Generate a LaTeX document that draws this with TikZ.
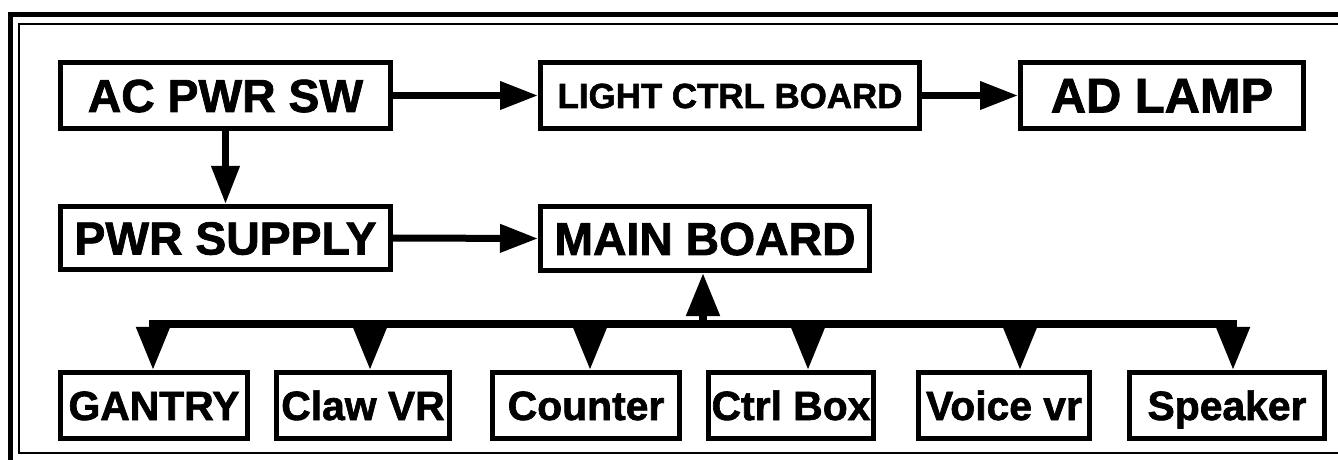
\documentclass[tikz,border=0pt]{standalone}
\usepackage{fontspec}
\setmainfont{Liberation Sans}[BoldFeatures={FakeBold=1.6}]
\usetikzlibrary{arrows.meta}
\tikzset{
  x=1bp, y=-1bp,
  box/.style={draw, line width=5bp, inner sep=0pt, minimum height=66bp, text height=33bp, text depth=0bp, font=\bfseries\fontsize{46.5}{46.5}\selectfont},
  small/.style={text height=25bp, font=\bfseries\fontsize{35}{35}\selectfont},
  wide/.style={text height=34bp, font=\bfseries\fontsize{49}{49}\selectfont},
  low/.style={text height=29bp, font=\bfseries\fontsize{41}{41}\selectfont},
  arr/.style={line width=7bp, -{Triangle[length=38bp, width=27bp]}},
  drop/.style={line width=8bp, -{Triangle[length=43bp, width=32bp]}},
  bus/.style={line width=8bp},
}
\begin{document}
\begin{tikzpicture}
\useasboundingbox (0,0) rectangle (1338,460);
\clip (0,0) rectangle (1338,460);
% frame
\draw[line width=5bp] (10.5,470) |- (1350,14.5);
\draw[line width=2bp] (1350,453) -| (19,24) -- (1350,24);
% top row
\node[box, minimum width=330bp] (ac) at (225.5,95.5) {AC PWR SW};
\node[box, small, minimum width=379bp] (light) at (730,95.5) {LIGHT CTRL BOARD};
\node[box, wide, minimum width=283bp] (lamp) at (1162,95.5) {AD LAMP};
% middle row
\node[box, minimum width=330bp, minimum height=63bp] (pwr) at (225.5,238) {PWR SUPPLY};
\node[box, minimum width=329bp, minimum height=64bp] (main) at (705,238.5) {MAIN BOARD};
% bottom row
\node[box, low, minimum width=187bp] (gantry) at (154,405.5) {GANTRY};
\node[box, low, minimum width=173bp] (claw) at (363,405.5) {Claw VR};
\node[box, low, minimum width=187bp] (counter) at (586,405.5) {Counter};
\node[box, low, minimum width=165bp] (ctrl) at (791,405.5) {Ctrl Box};
\node[box, low, minimum width=171bp] (voice) at (1004,405.5) {Voice vr};
\node[box, low, minimum width=195bp] (speaker) at (1227,405.5) {Speaker};
% connectors
\draw[arr] (ac.east) -- (light.west);
\draw[arr] (light.east) -- (lamp.west);
\draw[arr] (ac.south) -- (pwr.north);
\draw[arr] (pwr.east) -- (main.west);
% bus
\coordinate (b1) at (153,324);
\coordinate (b2) at (370,324);
\coordinate (b3) at (590,324);
\coordinate (b4) at (808,324);
\coordinate (b5) at (1020,324);
\coordinate (b6) at (1233,324);
\coordinate (bm) at (703,324);
\draw[bus] ([xshift=-4bp]b1) -- ([xshift=4bp]b6);
\draw[drop] (bm) -- (bm |- main.south);
\draw[drop] (b1) -- (b1 |- gantry.north);
\draw[drop] (b2) -- (b2 |- claw.north);
\draw[drop] (b3) -- (b3 |- counter.north);
\draw[drop] (b4) -- (b4 |- ctrl.north);
\draw[drop] (b5) -- (b5 |- voice.north);
\draw[drop] (b6) -- (b6 |- speaker.north);
\end{tikzpicture}
\end{document}
